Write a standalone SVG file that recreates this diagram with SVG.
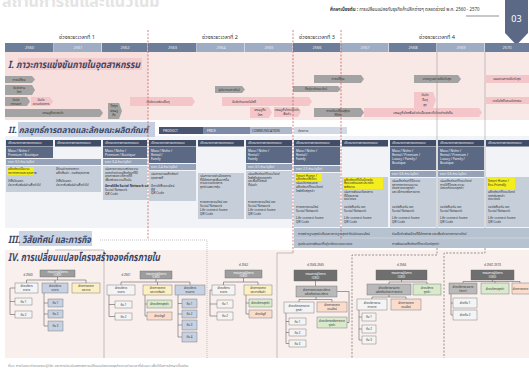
<svg xmlns="http://www.w3.org/2000/svg" width="529" height="372" viewBox="0 0 529 372">
<style>
text{font-family:"Noto Sans Thai","Liberation Sans","DejaVu Sans",sans-serif}
.h{font-weight:bold;font-style:italic;fill:#3b4663}
.per{font-size:5.5px;fill:#333;text-anchor:middle}
.yr{font-size:4px;fill:#e9edf4;text-anchor:middle}
.s{font-size:3.2px;fill:#333}
.sw{font-size:3.2px;fill:#f2f4f8}
.a{font-size:3.1px;fill:#333;text-anchor:middle}
.o{font-size:2.9px;fill:#333;text-anchor:middle}
.ow{font-size:2.9px;fill:#fff;text-anchor:middle}
.yd{fill:#6d7e9b}.yl{fill:#9eacc4}
.ga{fill:#a3a3a3}.pa{fill:#f4c6ca}
.hd{fill:#414d67}.dk{fill:#5c6984}.bd{fill:#95a2b7}.lt{fill:#c6ceda}.hl{fill:#f4ef1c}
.red{stroke:#c0504d;stroke-width:0.7;stroke-dasharray:2 1.5;fill:none}
.vg{stroke:#8c8c8c;stroke-width:0.5;fill:none}
.frm{stroke:#9a9a9a;stroke-width:0.6;fill:none}
.frd{stroke:#555;stroke-width:0.6;stroke-dasharray:2 1.5;fill:none}
.ln{stroke:#444;stroke-width:0.5;fill:none}
.bx{stroke:#666;stroke-width:0.4}
.otop{fill:#9d9d9d}.odk{fill:#6f6f6f}.ogr{fill:#b9b9b9}.olt{fill:#f4f4f4}.obl{fill:#c8d1e1}
.oyl{fill:#fbefc4}.ogn{fill:#d8eacb}.opk{fill:#fadccc}
</style>

<!-- backgrounds -->
<rect x="0" y="0" width="529" height="372" fill="#ffffff"/>
<rect x="5" y="52" width="524" height="68" fill="#f8e9e7"/>
<rect x="5" y="52" width="143" height="68" fill="#f6dfdd"/>
<rect x="5" y="136" width="524" height="92" fill="#f1f3f6"/>
<rect x="5" y="250" width="524" height="108" fill="#f9efed"/>

<!-- page heading -->
<text x="2" y="7" font-size="16" fill="#e4e4e4" font-weight="bold">สถานการณ์และแนวโน้ม</text>
<text x="330" y="11" font-size="4.4" fill="#333"><tspan font-weight="bold">ศึกษาเบื้องต้น :</tspan> การเปลี่ยนแปลงกับธุรกิจค้าปลีกต่างๆ ตลอดช่วงปี พ.ศ. 2560 - 2570</text>
<line x1="466" y1="16" x2="499" y2="16" stroke="#444" stroke-width="0.6"/>
<g id="badge">
<polygon points="505,0 528,0 528,33 516.5,45 505,33" fill="#5b6986"/>
<text x="516.5" y="22" font-size="9" fill="#fff" text-anchor="middle" font-family="Liberation Sans,sans-serif">03</text>
</g>

<!-- period labels -->
<text class="per" x="77" y="39">ช่วงระยะเวลาที่ 1</text>
<text class="per" x="220" y="39">ช่วงระยะเวลาที่ 2</text>
<text class="per" x="317" y="39">ช่วงระยะเวลาที่ 3</text>
<text class="per" x="437" y="39">ช่วงระยะเวลาที่ 4</text>

<!-- year bar -->
<g id="years">
<rect class="yd" x="5" y="43" width="48.5" height="9"/><text class="yr" x="29.5" y="49">2560</text>
<rect class="yl" x="54" y="43" width="47.5" height="9"/><text class="yr" x="78" y="49">2561</text>
<rect class="yd" x="102" y="43" width="45.5" height="9"/><text class="yr" x="125" y="49">2562</text>
<rect class="yd" x="148" y="43" width="48.5" height="9"/><text class="yr" x="172.5" y="49">2563</text>
<rect class="yl" x="197" y="43" width="47.5" height="9"/><text class="yr" x="221" y="49">2564</text>
<rect class="yl" x="245" y="43" width="47.5" height="9"/><text class="yr" x="269" y="49">2565</text>
<rect class="yd" x="293" y="43" width="47.5" height="9"/><text class="yr" x="317" y="49">2566</text>
<rect class="yl" x="341" y="43" width="47.5" height="9"/><text class="yr" x="365" y="49">2567</text>
<rect class="yd" x="389" y="43" width="47.5" height="9"/><text class="yr" x="413" y="49">2568</text>
<rect class="yl" x="437" y="43" width="47.5" height="9"/><text class="yr" x="461" y="49">2569</text>
<rect class="yd" x="485" y="43" width="44" height="9"/><text class="yr" x="507" y="49">2570</text>
</g>

<!-- I. competition -->
<rect x="18" y="58" width="124" height="12" fill="#f2cbcd"/>
<text class="h" x="8" y="67.5" font-size="10" textLength="132" lengthAdjust="spacingAndGlyphs">I. ภาวะการแข่งขันภายในอุตสาหกรรม</text>

<g id="sec1-bars">
<polygon class="ga" points="5,76 32,76 35,79.5 32,83 5,83"/><text class="a" x="19" y="80.6">การเปลี่ยน</text>
<polygon class="ga" points="5,85 32,85 35,90 32,95 5,95"/><text class="a" x="19" y="89.2">ปัจจัยด้าน</text><text class="a" x="19" y="93.4">โลก</text>
<polygon class="ga" points="5,97 27,97 30,101.5 27,106 5,106"/><text class="a" x="16" y="100.8">ปัจจัย</text><text class="a" x="16" y="105">ภายนอก</text>
<polygon class="pa" points="31,97 50,97 53,101.5 50,106 31,106"/><text class="a" x="41" y="100.8">ปัจจัย</text><text class="a" x="41" y="105">ความต้องการ</text>
<polygon class="ga" points="5,109 100,109 103,113 100,117 5,117"/><text class="a" x="53" y="114.2">เศรษฐกิจชะลอตัว</text>
<polygon class="ga" points="108,103 119,103 122,111 119,119 108,119"/><text class="a" x="114" y="107.2">วิกฤต</text><text class="a" x="114" y="111.8">เศรษฐ</text><text class="a" x="114" y="116.4">กิจ</text>
<polygon class="pa" points="130,97 192,97 195,101.5 192,106 130,106"/><text class="a" x="158" y="102.6">ปัจจัยแวดล้อมอื่นๆ</text>
<polygon class="ga" points="215,86 242,86 245,89.5 242,93 215,93"/><text class="a" x="229" y="90.6">ผู้ประกอบการใหม่</text>
<polygon class="pa" points="222,97 309,97 312,101.5 309,106 222,106"/><text class="a" x="244" y="102.6">ปัจจัยด้านเทคโนโลยี</text>
<polygon class="pa" points="250,107 269,107 272,112.5 269,118 250,118"/><text class="a" x="260" y="111.4">เศรษฐกิจ</text><text class="a" x="260" y="115.8">โลก</text>
<polygon class="pa" points="274,107 298,107 301,112 298,117 274,117"/><text class="a" x="287" y="111">เศรษฐกิจไทยปรับตัว</text><text class="a" x="287" y="115.4">ฟื้นตัว</text>
<polygon class="ga" points="293,86 338,86 341,89 338,92 293,92"/><text class="a" x="316" y="90.1">ที่อยู่อาศัยแนวใหม่</text>
<polygon class="ga" points="314,75 361,75 364,79 361,83 314,83"/><text class="a" x="338" y="80.1">การเปลี่ยน</text>
<polygon class="ga" points="314,108 361,108 364,112.5 361,117 314,117"/><text class="a" x="338" y="111.6">การปรับเปลี่ยนสู่ยุค</text><text class="a" x="338" y="115.9">ดิจิทัล</text>
<polygon class="pa" points="364,108 479,108 482,112.5 479,117 364,117"/><text class="a" x="423" y="113.6">เศรษฐกิจโลกฟื้นตัวต่อเนื่องและเติบโตอย่างยั่งยืน</text>
<polygon class="ga" points="414,75 458,75 461,79 458,83 414,83"/><text class="a" x="437" y="80.1">มาตรฐานการปรับตัวสูง</text>
<polygon class="pa" points="414,92 433,92 436,100 433,108 414,108"/><text class="a" x="425" y="96.4">ปัจจัย</text><text class="a" x="425" y="101">อื่นๆ</text><text class="a" x="425" y="105.6">สูง</text>
<rect class="pa" x="486" y="75" width="43" height="8"/><text class="a" x="507" y="80.1">แผนงานการปรับตัวสูง</text>
<rect class="pa" x="486" y="97" width="43" height="7"/><text class="a" x="507" y="101.6">เทคโนโลยีและนวัตกรรม</text>
</g>

<!-- II. marketing -->
<rect x="18" y="122" width="137" height="15" fill="#c6cfe0"/>
<text class="h" x="8" y="133" font-size="8.6" textLength="140" lengthAdjust="spacingAndGlyphs">II. กลยุทธ์การตลาดและลักษณะผลิตภัณฑ์</text>
<g id="legend">
<rect x="159" y="127" width="44" height="7" fill="#4a5670"/><text class="sw" x="163" y="131.8">PRODUCT</text>
<rect x="203" y="127" width="47" height="7" fill="#7c8aa5"/><text class="sw" x="207" y="131.8">PRICE</text>
<rect x="250" y="127" width="42" height="7" fill="#aeb9cc"/><text class="s" x="252" y="131.8">COMMUNICATION</text>
<rect x="294" y="127" width="53" height="7" fill="#d3d9e4"/><text class="s" x="298" y="131.8">ช่องทาง</text>
</g>

<g id="col-2560">
<rect class="hd" x="6" y="140" width="47" height="6.5"/><text class="sw" x="8" y="144.4">เป้าหมายทางการตลาดแบบ</text>
<rect class="dk" x="6" y="147" width="47" height="11"/><text class="sw" x="8" y="151.5">Mass / Niche /</text><text class="sw" x="8" y="155.5">Premium / Boutique</text>
</g>
<g id="col-2561">
<rect class="hd" x="55" y="140" width="46" height="6.5"/><text class="sw" x="57" y="144.4">เป้าหมายทางการตลาดแบบ</text>
</g>
<g id="col-2560-2561">
<rect class="bd" x="6" y="159" width="95" height="6"/><text class="sw" x="8" y="163.2">ราคา 3-5 ล้าน (ยูนิต)</text>
<rect class="lt" x="6" y="166" width="95" height="26"/>
<rect class="hl" x="7" y="167" width="27" height="8"/>
<text class="s" x="8" y="170.3">ผลิตภัณฑ์มีความ</text><text class="s" x="8" y="174">หลากหลายและคุณภาพ</text>
<text class="s" x="56" y="170.3">มีร้านค้าหลายสาขา</text><text class="s" x="56" y="174">ผลิตสินค้า - ขนส่งคุณภาพ</text>
<text class="s" x="8" y="182">ใช้สื่อโฆษณา</text><text class="s" x="8" y="185.7">ประชาสัมพันธ์ผ่านสื่อทั่วไป</text>
<text class="s" x="56" y="182">ใช้สื่อโฆษณา</text><text class="s" x="56" y="185.7">ประชาสัมพันธ์ผ่านสื่อทั่วไป</text>
</g>
<g id="col-2562">
<rect class="hd" x="103" y="140" width="44" height="6.5"/><text class="sw" x="105" y="144.4">เป้าหมายทางการตลาดแบบ</text>
<rect class="dk" x="103" y="147" width="44" height="11"/><text class="sw" x="105" y="151.5">Mass / Niche /</text><text class="sw" x="105" y="155.5">Premium / Boutique</text>
<rect class="bd" x="103" y="159" width="44" height="6"/><text class="sw" x="105" y="163.2">ราคา 3-4 ล้าน (ยูนิต)</text>
<rect class="lt" x="103" y="166" width="44" height="34"/>
<text class="s" x="105" y="170">เน้นการขายแบบสร้างความ</text><text class="s" x="105" y="173.7">แตกต่างด้วยผลิตภัณฑ์ที่มี</text><text class="s" x="105" y="177.4">คุณภาพและบริการที่ดี</text><text class="s" x="105" y="181.1">เพื่อสร้างความเชื่อมั่น</text>
<text class="s" x="105" y="187" font-weight="bold">มีการใช้สื่อ Social Network และ</text><text class="s" x="105" y="191">Social Network</text><text class="s" x="105" y="195">QR Code</text>
</g>
<g id="col-2563">
<rect class="hd" x="149" y="140" width="47" height="6.5"/><text class="sw" x="151" y="144.4">เป้าหมายทางการตลาดแบบ</text>
<rect class="dk" x="149" y="147" width="47" height="16"/><text class="sw" x="151" y="151.5">Mass / Niche /</text><text class="sw" x="151" y="155.5">Rental /</text><text class="sw" x="151" y="159.5">Family</text>
<rect class="bd" x="149" y="164" width="47" height="6"/><text class="sw" x="151" y="168.2">ราคา 2-4 ล้าน (ยูนิต)</text>
<rect class="lt" x="149" y="171" width="47" height="30"/>
<text class="s" x="151" y="175">เน้นการขายผลิตภัณฑ์</text><text class="s" x="151" y="178.7">คุณภาพดี</text>
<text class="s" x="151" y="187">มีการใช้สื่อออนไลน์</text><text class="s" x="151" y="190.7">ที่ดี</text><text class="s" x="151" y="194.4">QR Code</text>
</g>
<g id="col-2564">
<rect class="hd" x="198" y="140" width="46" height="6.5"/><text class="sw" x="200" y="144.4">เป้าหมายทางการตลาดแบบ</text>
<rect class="lt" x="198" y="173" width="46" height="46"/>
<text class="s" x="200" y="177">เน้นการขายผ่านโครงการ</text><text class="s" x="200" y="180.7">ที่มีศักยภาพเพิ่มมากขึ้น</text><text class="s" x="200" y="184.4">ตามความต้องการ</text><text class="s" x="200" y="188.1">ลูกค้าเฉพาะกลุ่ม</text>
<text class="s" x="200" y="203">การตลาดออนไลน์ และ</text><text class="s" x="200" y="207">Social Network</text><text class="s" x="200" y="211">Life connect home</text><text class="s" x="200" y="215">QR Code</text>
</g>
<g id="col-2565">
<rect class="hd" x="246" y="140" width="46" height="6.5"/><text class="sw" x="248" y="144.4">เป้าหมายทางการตลาดแบบ</text>
<rect class="dk" x="246" y="147" width="46" height="16"/><text class="sw" x="248" y="151.5">Mass / Niche /</text><text class="sw" x="248" y="155.5">Rental /</text><text class="sw" x="248" y="159.5">Family</text>
<rect class="bd" x="246" y="164" width="46" height="6"/><text class="sw" x="248" y="168.2">ราคา 3-5 ล้าน (ยูนิต)</text>
<rect class="lt" x="246" y="171" width="46" height="48"/>
<text class="s" x="248" y="175">เน้นผลิตภัณฑ์ที่ตอบโจทย์</text><text class="s" x="248" y="178.7">ไลฟ์สไตล์ของลูกค้า</text><text class="s" x="248" y="182.4">และพื้นที่ใช้สอย</text><text class="s" x="248" y="186.1">ที่คุ้มค่า</text>
<text class="s" x="248" y="203">การตลาดออนไลน์ และ</text><text class="s" x="248" y="207">Social Network</text><text class="s" x="248" y="211">Life connect home</text><text class="s" x="248" y="215">QR Code</text>
</g>
<g id="col-2566">
<rect class="hd" x="294" y="140" width="46" height="6.5"/><text class="sw" x="296" y="144.4">เป้าหมายทางการตลาดแบบ</text>
<rect class="dk" x="294" y="147" width="46" height="18"/><text class="sw" x="296" y="151.5">Mass / Niche /</text><text class="sw" x="296" y="155.5">Rental /</text><text class="sw" x="296" y="159.5">Family</text>
<rect class="bd" x="294" y="166" width="46" height="6"/><text class="sw" x="296" y="170.2">ราคา 2-5 ล้าน (ยูนิต)</text>
<rect class="lt" x="294" y="173" width="46" height="54"/>
<rect class="hl" x="295" y="173.5" width="27" height="7.5"/>
<text class="s" x="296" y="176.6">Smart Home /</text><text class="s" x="296" y="180.2">ผลิตภัณฑ์สีเขียว</text>
<text class="s" x="296" y="184.4">เน้นนวัตกรรมและ</text><text class="s" x="296" y="188.1">ผลิตภัณฑ์ที่ตอบโจทย์</text><text class="s" x="296" y="191.8">ไลฟ์สไตล์ลูกค้า</text>
<text class="s" x="296" y="208">การตลาดออนไลน์</text><text class="s" x="296" y="212">Social Network</text><text class="s" x="296" y="219">Life connect home</text><text class="s" x="296" y="223">QR Code</text>
</g>
<g id="col-2567">
<rect class="hd" x="342" y="140" width="46" height="6.5"/><text class="sw" x="344" y="144.4">เป้าหมายทางการตลาดแบบ</text>
<rect class="lt" x="342" y="177" width="46" height="50"/>
<rect class="hl" x="343" y="177.5" width="40" height="11.5"/>
<text class="s" x="344" y="180.8">ผลิตภัณฑ์ที่เป็นมิตรต่อ</text><text class="s" x="344" y="184.4">สิ่งแวดล้อมและประหยัด</text><text class="s" x="344" y="188">พลังงาน</text>
<text class="s" x="344" y="193">เน้นการพัฒนาโครงการ</text><text class="s" x="344" y="196.7">ที่มีคุณภาพ</text><text class="s" x="344" y="200.4">ครบวงจร</text>
<text class="s" x="344" y="208">แอปพลิเคชัน และ</text><text class="s" x="344" y="212">Social Network</text><text class="s" x="344" y="219">Life connect home</text><text class="s" x="344" y="223">QR Code</text>
</g>
<g id="col-2568">
<rect class="hd" x="390" y="140" width="46" height="6.5"/><text class="sw" x="392" y="144.4">เป้าหมายทางการตลาดแบบ</text>
<rect class="dk" x="390" y="147" width="46" height="23"/><text class="sw" x="392" y="151.5">Mass / Niche /</text><text class="sw" x="392" y="155.5">Rental / Premium /</text><text class="sw" x="392" y="159.5">Luxury / Family /</text><text class="sw" x="392" y="163.5">Boutique</text>
<rect class="bd" x="390" y="171" width="46" height="6"/><text class="sw" x="392" y="175.2">ราคา 3-6 ล้าน (ยูนิต)</text>
<rect class="lt" x="390" y="178" width="46" height="49"/>
<text class="s" x="392" y="182">เน้นผลิตภัณฑ์ที่มีความ</text><text class="s" x="392" y="185.7">หลากหลายตามความ</text><text class="s" x="392" y="189.4">ต้องการของลูกค้า</text><text class="s" x="392" y="193.1">และบริการหลังการขาย</text>
<text class="s" x="392" y="208">แอปพลิเคชัน และ</text><text class="s" x="392" y="212">Social Network</text><text class="s" x="392" y="219">Life connect home</text><text class="s" x="392" y="223">QR Code</text>
</g>
<g id="col-2569">
<rect class="hd" x="438" y="140" width="46" height="6.5"/><text class="sw" x="440" y="144.4">เป้าหมายทางการตลาดแบบ</text>
<rect class="dk" x="438" y="147" width="46" height="23"/><text class="sw" x="440" y="151.5">Mass / Niche /</text><text class="sw" x="440" y="155.5">Rental / Premium /</text><text class="sw" x="440" y="159.5">Luxury / Family /</text><text class="sw" x="440" y="163.5">Boutique</text>
<rect class="bd" x="438" y="171" width="46" height="6"/><text class="sw" x="440" y="175.2">ราคา 3-6 ล้าน (ยูนิต)</text>
<rect class="lt" x="438" y="178" width="46" height="49"/>
<text class="s" x="440" y="182">เน้นผลิตภัณฑ์ที่ตอบโจทย์</text><text class="s" x="440" y="185.7">การใช้ชีวิตและความ</text><text class="s" x="440" y="189.4">ปลอดภัยของลูกค้า</text>
<text class="s" x="440" y="208">แอปพลิเคชัน และ</text><text class="s" x="440" y="212">Social Network</text><text class="s" x="440" y="219">Life connect home</text><text class="s" x="440" y="223">QR Code</text>
</g>
<g id="col-2570">
<rect class="hd" x="486" y="140" width="43" height="6.5"/><text class="sw" x="488" y="144.4">เป้าหมายทางการตลาดแบบ</text>
<rect class="lt" x="486" y="177" width="43" height="50"/>
<rect class="hl" x="487" y="177.5" width="28" height="12"/>
<text class="s" x="488" y="181.5">Smart Home /</text><text class="s" x="488" y="185.5">Eco-Friendly</text>
<text class="s" x="488" y="193">ผลิตภัณฑ์ที่ตอบโจทย์</text><text class="s" x="488" y="196.7">ทุกกลุ่มลูกค้า</text><text class="s" x="488" y="200.4">ครบวงจร</text>
<text class="s" x="488" y="208">แอปพลิเคชัน และ</text><text class="s" x="488" y="212">Social Network</text><text class="s" x="488" y="219">Life connect home</text><text class="s" x="488" y="223">QR Code</text>
</g>

<g id="strategy">
<rect x="294" y="228" width="235" height="20" fill="#b7c2d1"/>
<line x1="294" y1="238" x2="529" y2="238" stroke="#e2e6ec" stroke-width="0.5"/>
<text class="s" x="298" y="234.5">การสร้างฐานลูกค้าเดิมและขยายฐานลูกค้าใหม่ผ่านออนไลน์</text>
<text class="s" x="392" y="234.5">ร่วมมือกับพันธมิตรที่มีศักยภาพ และเพิ่มช่องทางการขายใหม่</text>
<text class="s" x="298" y="244.5">ศูนย์รวมการพัฒนาที่อยู่อาศัยแบบครบวงจร</text>
<text class="s" x="392" y="244.5">การพัฒนาผลิตภัณฑ์ที่ตอบโจทย์ลูกค้า</text>
</g>

<!-- III / IV headings -->
<rect x="19" y="231" width="73" height="15" fill="#c9d3e1"/>
<text class="h" x="8" y="243" font-size="10" textLength="83" lengthAdjust="spacingAndGlyphs">III. วิสัยทัศน์ และภารกิจ</text>

<!-- section IV frames -->
<g id="frames">
<polyline class="frm" points="55,250 104,250 104,358"/>
<polyline class="frm" points="100,240 207,240 207,358" stroke-dasharray="1 1"/>
<polyline class="frm" points="293,253 277,253 277,358"/>
<polyline class="frd" points="437,248 437,255 352,255 352,358"/>
<polyline class="frd" points="485,248 485,253 444,253 444,358"/>
</g>
<text class="h" x="8" y="261" font-size="11" textLength="152" lengthAdjust="spacingAndGlyphs">IV. การเปลี่ยนแปลงโครงสร้างองค์กรภายใน</text>

<!-- timeline separators -->
<g id="separators">
<line class="red" x1="148" y1="30" x2="148" y2="240"/>
<line class="red" x1="293" y1="30" x2="293" y2="253"/>
<line class="red" x1="341" y1="30" x2="341" y2="240"/>
<line class="vg" x1="437" y1="52" x2="437" y2="228"/>
<line class="vg" x1="485" y1="52" x2="485" y2="228" stroke="#c4c4c4"/>
</g>

<!-- org chart connectors -->
<g id="connectors">
<path class="ln" d="M57.5,277V280M26.5,283V280H86V283M55,280V283M15,288H10V314.5H15M10,301.5H15M44,293V326H48M44,303H48M44,314H48"/>
<path class="ln" d="M156,279V282M121,285V282H190V285M157.5,282V285M109,295V316.5H115M109,304.5H115M145,295V316H147M145,304H147M178,295V337H182M178,303.5H182M178,314H182M178,325H182"/>
<path class="ln" d="M243.5,278V282M223.5,285V282H258V285M210,290H212M210,290V316H217M210,304H217M246,295V314H249M246,303H249"/>
<path class="ln" d="M315.5,281V286M316,297V299.5M299,302V299.5H332V302M337,291.5H349V322.5H347M286,313V343.5H289M286,321.5H289M286,332.5H289"/>
<path class="ln" d="M401.5,280V282M389,284V282H427V284M389,295V297M372,299V297H406V299M359,310V340H362M359,317H362M359,329H362"/>
<path class="ln" d="M492.5,280V281.5M463,283V281.5H520V283M495,281.5V283M451,294V315H453M451,303H453"/>
</g>

<!-- org chart 2560 -->
<text class="o" x="28" y="275.5">ปี 2560</text>
<g id="o1-top"><rect class="otop bx" x="40" y="270" width="35" height="7"/><text class="ow" x="57.5" y="273.3">กรรมการผู้จัดการ</text><text class="ow" x="57.5" y="276.4">(CEO)</text></g>
<g id="o1-a"><rect class="olt bx" x="15" y="283" width="23" height="10"/><text class="o" x="26.5" y="287.2">ฝ่ายบริหาร</text><text class="o" x="26.5" y="291">อาคาร</text></g>
<g id="o1-b"><rect class="obl bx" x="42" y="283" width="26" height="10"/><text class="o" x="55" y="287.2">ฝ่ายบริหาร</text><text class="o" x="55" y="291">อาคาร</text></g>
<g id="o1-c"><rect class="oyl bx" x="72" y="283" width="28" height="10"/><text class="o" x="86" y="287.2">ฝ่ายการตลาด</text><text class="o" x="86" y="291">และขาย</text></g>
<g id="o1-a1"><rect class="olt bx" x="15" y="298" width="17" height="7"/><text class="o" x="23.5" y="302.5">ทีม 1</text></g>
<g id="o1-a2"><rect class="olt bx" x="15" y="311" width="17" height="7"/><text class="o" x="23.5" y="315.5">ทีม 2</text></g>
<g id="o1-b1"><rect class="obl bx" x="48" y="299" width="15" height="8"/><text class="o" x="55.5" y="304">ทีม 1</text></g>
<g id="o1-b2"><rect class="obl bx" x="48" y="310" width="15" height="8"/><text class="o" x="55.5" y="315">ทีม 2</text></g>
<g id="o1-b3"><rect class="obl bx" x="48" y="321" width="15" height="10"/><text class="o" x="55.5" y="327">ทีม 3</text></g>

<!-- org chart 2561 -->
<text class="o" x="126" y="276">ปี 2561</text>
<g id="o2-top"><rect class="otop bx" x="140" y="271" width="32" height="8"/><text class="ow" x="156" y="274.5">กรรมการผู้จัดการ</text><text class="ow" x="156" y="277.7">(CEO)</text></g>
<g id="o2-a"><rect class="olt bx" x="107" y="285" width="28" height="10"/><text class="o" x="121" y="289.2">ฝ่ายบริหาร</text><text class="o" x="121" y="293">อาคาร</text></g>
<g id="o2-b"><rect class="oyl bx" x="143" y="285" width="29" height="10"/><text class="o" x="157.5" y="289.2">ฝ่ายการตลาด</text><text class="o" x="157.5" y="293">และขายสินค้า</text></g>
<g id="o2-c"><rect class="obl bx" x="175" y="285" width="30" height="10"/><text class="o" x="190" y="289.2">ฝ่ายบริหาร</text><text class="o" x="190" y="293">งานขาย</text></g>
<g id="o2-a1"><rect class="olt bx" x="115" y="301" width="17" height="7"/><text class="o" x="123.5" y="305.5">ทีม 1</text></g>
<g id="o2-a2"><rect class="olt bx" x="115" y="313" width="17" height="7"/><text class="o" x="123.5" y="317.5">ทีม 2</text></g>
<g id="o2-b1"><rect class="ogn bx" x="147" y="300" width="25" height="8"/><text class="o" x="159.5" y="305">ฝ่ายบริการลูกค้า</text></g>
<g id="o2-b2"><rect class="opk bx" x="147" y="312" width="25" height="8"/><text class="o" x="159.5" y="317">ฝ่ายบัญชี</text></g>
<g id="o2-c1"><rect class="obl bx" x="182" y="299" width="15" height="9"/><text class="o" x="189.5" y="304.5">ทีม 1</text></g>
<g id="o2-c2"><rect class="obl bx" x="182" y="310" width="15" height="8"/><text class="o" x="189.5" y="315">ทีม 2</text></g>
<g id="o2-c3"><rect class="obl bx" x="182" y="320" width="15" height="10"/><text class="o" x="189.5" y="326">ทีม 3</text></g>
<g id="o2-c4"><rect class="obl bx" x="182" y="332" width="15" height="10"/><text class="o" x="189.5" y="338">ทีม 4</text></g>

<!-- org chart 2562 -->
<text class="o" x="243.5" y="266">ปี 2562</text>
<g id="o3-top"><rect class="otop bx" x="225" y="270" width="37" height="8"/><text class="ow" x="243.5" y="273.5">กรรมการผู้จัดการ</text><text class="ow" x="243.5" y="276.7">(CEO)</text></g>
<g id="o3-a"><rect class="olt bx" x="212" y="285" width="23" height="10"/><text class="o" x="223.5" y="289.2">ฝ่ายบริหาร</text><text class="o" x="223.5" y="293">อาคาร</text></g>
<g id="o3-b"><rect class="oyl bx" x="244" y="285" width="28" height="10"/><text class="o" x="258" y="289.2">ฝ่ายการตลาด</text><text class="o" x="258" y="293">และขายสินค้า</text></g>
<g id="o3-a1"><rect class="olt bx" x="217" y="300" width="16" height="8"/><text class="o" x="225" y="305">ทีม 1</text></g>
<g id="o3-a2"><rect class="olt bx" x="217" y="312" width="16" height="8"/><text class="o" x="225" y="317">ทีม 2</text></g>
<g id="o3-b1"><rect class="ogn bx" x="249" y="299" width="23" height="8"/><text class="o" x="260.5" y="304">ฝ่ายบริการลูกค้า</text></g>
<g id="o3-b2"><rect class="opk bx" x="249" y="310" width="23" height="8"/><text class="o" x="260.5" y="315">ฝ่ายบัญชี</text></g>

<!-- org chart 2563-2565 -->
<text class="o" x="315.5" y="266">ปี 2563-2565</text>
<g id="o4-top"><rect class="odk bx" x="294" y="270" width="43" height="11"/><text class="ow" x="315.5" y="274.8">กรรมการผู้จัดการ</text><text class="ow" x="315.5" y="278.7">(CEO)</text></g>
<g id="o4-m"><rect class="ogr bx" x="296" y="286" width="41" height="11"/><text class="o" x="316.5" y="290.6">ฝ่ายการตลาดและบริหาร</text><text class="o" x="316.5" y="294.5">ผลิตภัณฑ์และบริการ</text></g>
<g id="o4-a"><rect class="olt bx" x="284" y="302" width="30" height="11"/><text class="o" x="299" y="306.6">ฝ่ายบริหารการขาย</text><text class="o" x="299" y="310.5">ลูกค้า</text></g>
<g id="o4-b"><rect class="opk bx" x="317" y="302" width="30" height="10"/><text class="o" x="332" y="306.2">ฝ่ายการตลาด</text><text class="o" x="332" y="310">ออนไลน์</text></g>
<g id="o4-c"><rect class="ogn bx" x="317" y="317" width="30" height="11"/><text class="o" x="332" y="321.6">ฝ่ายบริการหลังการขาย</text><text class="o" x="332" y="325.5">ลูกค้า</text></g>
<g id="o4-a1"><rect class="olt bx" x="289" y="318" width="17" height="7"/><text class="o" x="297.5" y="322.5">ทีม 1</text></g>
<g id="o4-a2"><rect class="olt bx" x="289" y="329" width="17" height="7"/><text class="o" x="297.5" y="333.5">ทีม 2</text></g>
<g id="o4-a3"><rect class="olt bx" x="289" y="340" width="17" height="7"/><text class="o" x="297.5" y="344.5">ทีม 3</text></g>

<!-- org chart 2566 -->
<text class="o" x="401.5" y="266">ปี 2566</text>
<g id="o5-top"><rect class="odk bx" x="376" y="270" width="51" height="10"/><text class="ow" x="401.5" y="274.3">กรรมการผู้จัดการ</text><text class="ow" x="401.5" y="278.2">(CEO)</text></g>
<g id="o5-m"><rect class="ogr bx" x="367" y="284" width="44" height="11"/><text class="o" x="389" y="288.6">ฝ่ายบริหารงานขาย</text><text class="o" x="389" y="292.5">ผลิตภัณฑ์และการตลาด</text></g>
<g id="o5-g"><rect class="ogn bx" x="413" y="284" width="28" height="11"/><text class="o" x="427" y="288.6">ฝ่ายบริการ</text><text class="o" x="427" y="292.5">ลูกค้า</text></g>
<g id="o5-a"><rect class="olt bx" x="357" y="299" width="30" height="11"/><text class="o" x="372" y="303.6">ฝ่ายบริหารงาน</text><text class="o" x="372" y="307.5">การขาย</text></g>
<g id="o5-b"><rect class="opk bx" x="391" y="299" width="30" height="11"/><text class="o" x="406" y="303.6">ฝ่ายการตลาด</text><text class="o" x="406" y="307.5">ออนไลน์</text></g>
<g id="o5-a1"><rect class="olt bx" x="362" y="313" width="14" height="8"/><text class="o" x="369" y="318">ทีม 1</text></g>
<g id="o5-a2"><rect class="olt bx" x="362" y="325" width="14" height="8"/><text class="o" x="369" y="330">ทีม 2</text></g>
<g id="o5-a3"><rect class="olt bx" x="362" y="336" width="14" height="8"/><text class="o" x="369" y="341">ทีม 3</text></g>

<!-- org chart 2567-2570 -->
<text class="o" x="492.5" y="266">ปี 2567-2570</text>
<g id="o6-top"><rect class="odk bx" x="471" y="270" width="43" height="10"/><text class="ow" x="492.5" y="274.3">กรรมการผู้จัดการ</text><text class="ow" x="492.5" y="278.2">(CEO)</text></g>
<g id="o6-m"><rect class="ogr bx" x="449" y="283" width="28" height="11"/><text class="o" x="463" y="287.6">ฝ่ายบริหารงานขาย</text><text class="o" x="463" y="291.5">(สาขา)</text></g>
<g id="o6-g"><rect class="ogn bx" x="481" y="283" width="28" height="11"/><text class="o" x="495" y="289.5">ฝ่ายบริการลูกค้า</text></g>
<g id="o6-p"><rect class="opk bx" x="512" y="283" width="20" height="11"/><text class="o" x="520.5" y="289.5">ฝ่ายการตลาด</text></g>
<g id="o6-a1"><rect class="olt bx" x="453" y="298" width="24" height="10"/><text class="o" x="465" y="304">ฝ่ายทีม 1</text></g>
<g id="o6-a2"><rect class="olt bx" x="453" y="310" width="24" height="10"/><text class="o" x="465" y="316">ฝ่ายทีม 2</text></g>

<!-- source note -->
<text x="8" y="367" font-size="3.6" fill="#8a8a8a">ที่มา: การวิเคราะห์ของคณะผู้วิจัย และการประเมินสภาพการเปลี่ยนแปลงของธุรกิจตามช่วงเวลาที่ผ่านมา เพื่อใช้ในการศึกษาเบื้องต้น</text>
</svg>
